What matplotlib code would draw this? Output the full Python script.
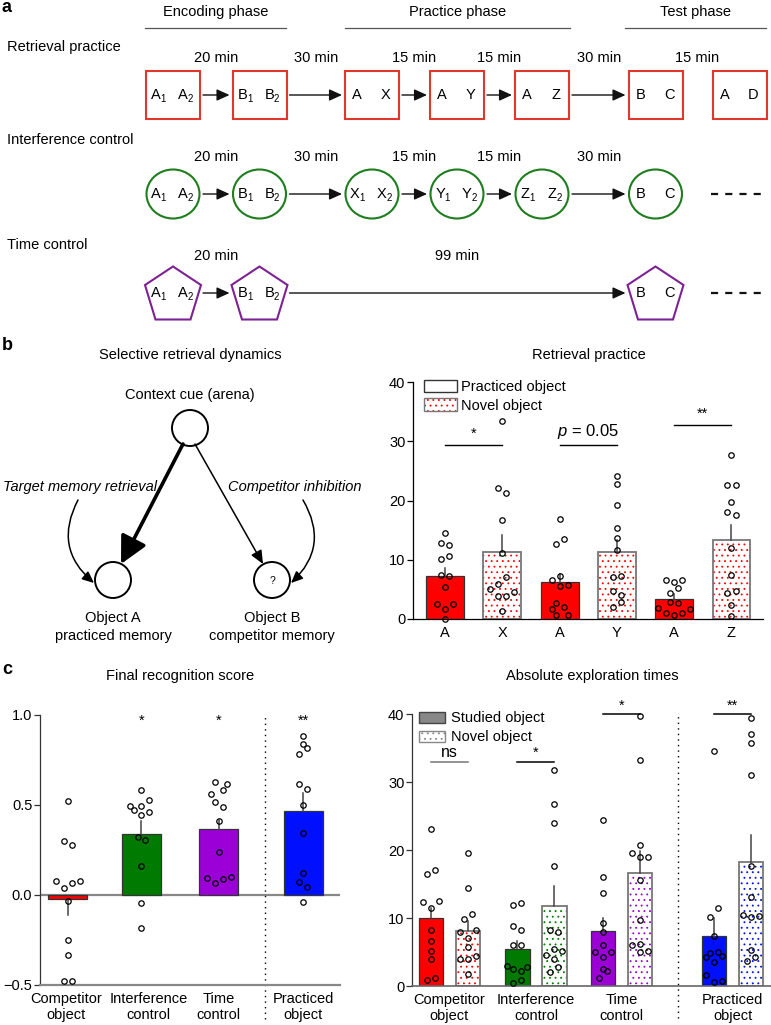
import numpy as np
import matplotlib
matplotlib.use('Agg')
import matplotlib.pyplot as plt
from matplotlib.patches import Rectangle, Ellipse, Polygon, Circle, Patch
from matplotlib.legend_handler import HandlerTuple

plt.rcParams['font.family'] = ['Liberation Sans', 'DejaVu Sans']
plt.rcParams['font.size'] = 10.5
plt.rcParams['mathtext.fontset'] = 'custom'
plt.rcParams['mathtext.rm'] = 'Liberation Sans'
plt.rcParams['mathtext.it'] = 'Liberation Sans:italic'
plt.rcParams['hatch.linewidth'] = 0.6

W, H = 771, 1025

# ---------------- data ----------------
# panel a: protocol
phases = ['Encoding phase', 'Practice phase', 'Test phase']
rp_items = [('A1', 'A2'), ('B1', 'B2'), ('A', 'X'), ('A', 'Y'), ('A', 'Z'), ('B', 'C'), ('A', 'D')]
rp_gaps = ['20 min', '30 min', '15 min', '15 min', '30 min', '15 min']
ic_items = [('A1', 'A2'), ('B1', 'B2'), ('X1', 'X2'), ('Y1', 'Y2'), ('Z1', 'Z2'), ('B', 'C')]
ic_gaps = ['20 min', '30 min', '15 min', '15 min', '30 min']
tc_items = [('A1', 'A2'), ('B1', 'B2'), ('B', 'C')]
tc_gaps = ['20 min', '99 min']

# panel b right: retrieval practice
rp_labels = ['A', 'X', 'A', 'Y', 'A', 'Z']
rp_means = [7.3, 11.3, 6.2, 11.3, 3.3, 13.4]
rp_sem = [1.3, 2.9, 1.45, 2.1, 1.0, 2.5]
rp_points = [
    [14.5, 12.9, 12.5, 10.7, 10.2, 7.5, 7.3, 5.4, 2.5, 1.7, 2.6, 0.05],
    [33.4, 22.1, 21.2, 16.7, 11.2, 7.1, 5.9, 5.1, 3.9, 3.9, 4.5, 1.3],
    [16.9, 12.7, 13.5, 7.3, 6.5, 5.6, 5.8, 2.7, 1.7, 2.1, 0.7, 0.7],
    [24.1, 22.8, 19.3, 15.4, 13.6, 11.7, 7.1, 7.2, 4.7, 4.1, 2.9, 2.1],
    [6.6, 6.2, 6.6, 5.2, 4.4, 2.8, 2.7, 1.9, 1.7, 1.0, 0.7, 1.0],
    [27.6, 22.6, 22.6, 19.7, 18.0, 17.5, 12.0, 7.5, 4.4, 4.8, 2.3, 0.45],
]
rp_offsets = [
    [0, -1, 1, 1, -1, -1, 1, 0, -2, 0, 2, 0],
    [0, -1, 1, 0, 0, 1, -1, -3, -1, 1, 3, 0],
    [0, -1, 1, 0, -2, 0, 2, -1, -2, 1, -1, 2],
    [0, 0, 0, 0, 0, 0, -1, 1, -1, 1, 1, -1],
    [-2, 0, 2, 1, -1, -1, 1, -4, 4, -2, 0, 2],
    [0, -1, 1, 0, -1, 1, 0, 0, -1, 1, 0, 0],
]

# panel c left: final recognition score
score_labels = ['Competitor\nobject', 'Interference\ncontrol', 'Time\ncontrol', 'Practiced\nobject']
score_means = [-0.02, 0.34, 0.365, 0.465]
score_sem = [0.09, 0.07, 0.05, 0.10]
score_stars = ['', '*', '*', '**']
score_points = [
    [0.52, 0.30, 0.276, 0.078, 0.039, 0.069, 0.078, -0.033, -0.248, -0.335, -0.48, -0.48],
    [0.583, 0.494, 0.494, 0.528, 0.472, 0.463, 0.443, 0.324, 0.306, 0.159, -0.044, -0.183],
    [0.628, 0.615, 0.583, 0.561, 0.519, 0.491, 0.409, 0.241, 0.096, 0.069, 0.087, 0.102],
    [0.883, 0.837, 0.815, 0.783, 0.619, 0.589, 0.502, 0.346, 0.120, 0.074, 0.043, -0.037],
]
score_offsets = [
    [0, -1, 1, -3, -1, 1, 3, 0, 0, 0, -1, 1],
    [0, -3, 0, 2, -2, 2, 0, -1, 1, 0, 0, 0],
    [-1, 2, 1, -2, -1, 1, 0, 0, -3, -1, 1, 3],
    [0, 0, 1, -1, -1, 1, 0, 0, 0, -1, 1, 0],
]

# panel c right: absolute exploration times
studied_means = [10.0, 5.4, 8.1, 7.35]
studied_sem = [1.5, 1.2, 1.95, 2.7]
novel_means = [8.1, 11.7, 16.6, 18.2]
novel_sem = [1.5, 3.05, 3.25, 3.95]
studied_points = [
    [23.1, 16.5, 17.1, 12.3, 12.5, 11.5, 8.3, 6.6, 5.2, 3.9, 0.9, 1.2],
    [11.9, 12.2, 8.8, 8.2, 6.0, 6.0, 2.9, 2.5, 2.2, 2.8, 0.5, 0.9],
    [24.4, 16.0, 13.7, 9.3, 7.9, 6.0, 5.0, 5.0, 4.2, 2.5, 2.2, 1.2],
    [34.5, 11.4, 10.2, 7.4, 4.3, 4.8, 5.0, 4.4, 3.5, 1.6, 0.6, 0.7],
]
studied_offsets = [
    [0, -1, 1, -2, 2, 0, 0, 0, 0, 0, -1, 1],
    [-1, 1, -1, 1, -1, 1, -2.5, -1, 1, 2.5, -1, 1],
    [0, 0, 0, 0, 0, 0, -2, 2, 0, 0, 1, -1],
    [0, 1, -1, 0, -2, -1, 1, 2, 0, -2, 0, 2],
]
novel_points = [
    [19.6, 14.4, 10.6, 9.9, 7.9, 8.2, 7.1, 5.7, 3.9, 3.9, 4.4, 1.8],
    [31.7, 26.7, 24.0, 17.6, 8.3, 7.9, 5.5, 4.6, 5.1, 4.0, 2.8, 2.1],
    [39.7, 33.2, 20.7, 19.6, 19.0, 19.0, 15.6, 9.7, 6.2, 6.0, 5.0, 5.2],
    [39.4, 37.1, 35.7, 31.0, 17.6, 13.1, 10.5, 10.2, 10.3, 5.3, 3.7, 4.3],
]
novel_offsets = [
    [0, 0, 1, -1, -2, 2, 0, 0, -2, 0, 2, 0],
    [0, 0, 0, 0, -1, 1, 0, -2, 2, 0, 1, -1],
    [0, 0, 0, -2, 0, 2, 0, 0, 0, -2, 0, 2],
    [0, 0, 0, 0, 0, 0, -2, 0, 2, 0, -1, 1],
]
expl_sig = ['ns', '*', '*', '**']
expl_sig_y = [32.9, 33.0, 40.0, 40.0]

group_colors = ['#ff0000', '#007a00', '#9b00d6', '#0010ff']
shape_colors = ['#e0392b', '#1e7d1e', '#7d2293']
DOTS = '...'


def px_rect(x0, y0, x1, y1):
    return [x0 / W, 1 - y1 / H, (x1 - x0) / W, (y1 - y0) / H]


fig = plt.figure(figsize=(W / 100, H / 100), dpi=100)
ov = fig.add_axes([0, 0, 1, 1])
ov.set_xlim(0, W)
ov.set_ylim(H, 0)
ov.axis('off')

# ---------------- panel a ----------------
ov.text(1, 7, 'a', fontsize=13, fontweight='bold', ha='left', va='center')
phase_x = [(145, 286), (345, 570), (625, 766)]
for name, (x0, x1) in zip(phases, phase_x):
    ov.text((x0 + x1) / 2, 12, name, ha='center', va='center')
    ov.plot([x0, x1], [28, 28], color='#555', lw=0.9)

col_x = [173, 259.5, 372, 457, 542, 655.5, 739.5]


def item_text(x, y, s):
    ov.text(x, y, s[0], ha='center', va='center', fontsize=10.5)
    if len(s) > 1:
        ov.text(x + 7, y + 4, s[1:], ha='center', va='center', fontsize=7)


def draw_shape(kind, cx, cy, color, items):
    if kind == 'box':
        p = Rectangle((cx - 27, cy - 24), 54, 48, fill=False, ec=color, lw=1.5)
    elif kind == 'circle':
        p = Ellipse((cx, cy), 53, 49, fill=False, ec=color, lw=1.5)
    else:
        p = Polygon([(cx, cy - 26.5), (cx + 28, cy - 8), (cx + 17.5, cy + 26.5),
                     (cx - 17.5, cy + 26.5), (cx - 28, cy - 8)], closed=True,
                    fill=False, ec=color, lw=1.5)
    ov.add_patch(p)
    if len(items[0]) > 1:
        item_text(cx - 17, cy, items[0])
        item_text(cx + 10, cy, items[1])
    else:
        item_text(cx - 15, cy, items[0])
        item_text(cx + 14, cy, items[1])


def h_arrow(x0, x1, y):
    ov.annotate('', xy=(x1, y), xytext=(x0, y),
                arrowprops=dict(arrowstyle='-|>,head_length=0.55,head_width=0.25',
                                color='#111', lw=1.0, mutation_scale=14,
                                shrinkA=0, shrinkB=0))


rows = [
    ('Retrieval practice', 47, 95, 'box', rp_items, rp_gaps, list(range(7)), shape_colors[0]),
    ('Interference control', 140, 194, 'circle', ic_items, ic_gaps, list(range(6)), shape_colors[1]),
    ('Time control', 245, 293, 'pent', tc_items, tc_gaps, [0, 1, 5], shape_colors[2]),
]
for label, ly, cy, kind, items, gaps, cols, color in rows:
    ov.text(7, ly, label, ha='left', va='center')
    for it, c in zip(items, cols):
        draw_shape(kind, col_x[c], cy, color, it)
    n_arrows = len(cols) - 1 if kind != 'box' else 5
    for k in range(n_arrows):
        xa = col_x[cols[k]] + 30
        xb = col_x[cols[k + 1]] - 30
        h_arrow(xa, xb, cy)
    for k, g in enumerate(gaps):
        gx = (col_x[cols[k]] + col_x[cols[k + 1]]) / 2
        ov.text(gx, cy - 37, g, ha='center', va='center')
    if kind != 'box':
        ov.plot([711, 765], [cy, cy], color='#111', lw=1.6, ls=(0, (3.2, 3.2)))

# ---------------- panel b left ----------------
ov.text(2, 346, 'b', fontsize=13, fontweight='bold', ha='left', va='center')
ov.text(190, 355, 'Selective retrieval dynamics', ha='center', va='center')
ov.text(190, 395, 'Context cue (arena)', ha='center', va='center')
for (cx, cy) in [(190, 428), (113, 580), (272, 580)]:
    ov.add_patch(Circle((cx, cy), 18, fill=False, ec='k', lw=1.4))
ov.text(272, 581, '?', ha='center', va='center', fontsize=7.5)
ov.annotate('', xy=(121, 564), xytext=(183, 444),
            arrowprops=dict(arrowstyle='-|>,head_length=0.55,head_width=0.28',
                            color='k', lw=2.6, mutation_scale=30, shrinkA=0, shrinkB=0))
ov.annotate('', xy=(263, 564), xytext=(195, 444),
            arrowprops=dict(arrowstyle='-|>,head_length=0.5,head_width=0.22',
                            color='k', lw=1.1, mutation_scale=16, shrinkA=0, shrinkB=0))
ov.text(80, 487, 'Target memory retrieval', ha='center', va='center', style='italic')
ov.text(295, 487, 'Competitor inhibition', ha='center', va='center', style='italic')
ov.annotate('', xy=(94, 583), xytext=(78, 500),
            arrowprops=dict(arrowstyle='-|>,head_length=0.5,head_width=0.22',
                            color='k', lw=1.1, mutation_scale=14, shrinkA=0, shrinkB=0,
                            connectionstyle='arc3,rad=0.4'))
ov.annotate('', xy=(291, 583), xytext=(303, 500),
            arrowprops=dict(arrowstyle='-|>,head_length=0.5,head_width=0.22',
                            color='k', lw=1.1, mutation_scale=14, shrinkA=0, shrinkB=0,
                            connectionstyle='arc3,rad=-0.4'))
ov.text(113, 618, 'Object A', ha='center', va='center')
ov.text(113, 636, 'practiced memory', ha='center', va='center')
ov.text(272, 618, 'Object B', ha='center', va='center')
ov.text(272, 636, 'competitor memory', ha='center', va='center')

# titles of chart panels
ov.text(589, 355, 'Retrieval practice', ha='center', va='center')
ov.text(2, 670, 'c', fontsize=13, fontweight='bold', ha='left', va='center')
ov.text(180, 676, 'Final recognition score', ha='center', va='center')
ov.text(592, 676, 'Absolute exploration times', ha='center', va='center')


def style_axes(ax, left_color='k', bottom_color='k', bottom_lw=0.9):
    for s in ['top', 'right']:
        ax.spines[s].set_visible(False)
    ax.spines['left'].set_color(left_color)
    ax.spines['left'].set_linewidth(0.9)
    ax.spines['bottom'].set_color(bottom_color)
    ax.spines['bottom'].set_linewidth(bottom_lw)
    ax.tick_params(axis='y', direction='out', length=4, width=0.9, pad=1.5,
                   labelsize=10.5, color=left_color)
    ax.tick_params(axis='x', length=0, pad=5, labelsize=10.5)
    ax.patch.set_alpha(0)


def dotted_bar(ax, x, h, w, dot_color, edge_color):
    ax.bar(x, h, w, color='white', edgecolor=dot_color, hatch=DOTS, linewidth=0, zorder=1)
    ax.bar(x, h, w, fill=False, edgecolor=edge_color, linewidth=1.3, zorder=1.5)


def scatter_pts(ax, x, pts, offs, step):
    xs = [x + o * step for o in offs]
    ax.plot(xs, pts, 'o', ms=3.9, mfc='none', mec='k', mew=0.9, zorder=4, clip_on=False)


def err_line(ax, x, m, s):
    top = m + s if m >= 0 else m - s
    ax.plot([x, x], [m, top], color='#444', lw=1.1, zorder=3)


# ---------------- panel b right ----------------
axb = fig.add_axes(px_rect(413, 382, 763, 619))
style_axes(axb)
xb = np.arange(len(rp_labels))
for i in range(len(rp_labels)):
    if i % 2 == 0:
        axb.bar(xb[i], rp_means[i], 0.66, color=group_colors[0], edgecolor='#333', linewidth=0.9, zorder=1)
    else:
        dotted_bar(axb, xb[i], rp_means[i], 0.66, group_colors[0], '#777')
    err_line(axb, xb[i], rp_means[i], rp_sem[i])
    scatter_pts(axb, xb[i], rp_points[i], rp_offsets[i], 0.07)
axb.set_xlim(-0.56, 5.55)
axb.set_ylim(0, 40)
axb.set_yticks([0, 10, 20, 30, 40])
axb.set_xticks(xb)
axb.set_xticklabels(rp_labels)
for (a, b), y, txt, ty, fs in [((0, 1), 29.3, '*', 30.0, 10.5),
                               ((2, 3), 29.3, r'$\it{p}$ = 0.05', 31.6, 12),
                               ((4, 5), 32.8, '**', 33.5, 10.5)]:
    axb.plot([a, b], [y, y], color='k', lw=1.0)
    axb.text((a + b) / 2, ty, txt, ha='center', va='bottom' if '*' in txt else 'center', fontsize=fs)
leg_b = [Patch(facecolor='white', edgecolor='#333', linewidth=1.0),
         (Patch(facecolor='white', edgecolor=group_colors[0], hatch=DOTS, linewidth=0),
          Patch(fill=False, edgecolor='#777', linewidth=1.0))]
axb.legend(leg_b, ['Practiced object', 'Novel object'], handler_map={tuple: HandlerTuple(ndivide=1)},
           loc='upper left', bbox_to_anchor=(0.03, 1.01), frameon=False, handlelength=2.3,
           handleheight=0.95, handletextpad=0.3, labelspacing=0.3, borderpad=0, borderaxespad=0)

# ---------------- panel c left ----------------
axc = fig.add_axes(px_rect(40, 715, 340, 985))
style_axes(axc, left_color='#333', bottom_color='#888', bottom_lw=1.6)
xc = [0, 1, 2.05, 3.2]
label_xc = [-0.03, 1.1, 2.05, 3.2]
axc.axhline(0, color='#888', lw=1.6, zorder=0.5)
for i in range(4):
    axc.bar(xc[i], score_means[i], 0.53, color=group_colors[i], edgecolor='#333', linewidth=0.9, zorder=1)
    err_line(axc, xc[i], score_means[i], score_sem[i])
    scatter_pts(axc, xc[i], score_points[i], score_offsets[i], 0.054)
    if score_stars[i]:
        axc.text(xc[i], 0.93, score_stars[i], ha='center', va='bottom')
axc.plot([2.68, 2.68], [-0.69, 1.0], color='k', lw=1.0, ls=(0, (1, 3)), clip_on=False)
axc.set_xlim(-0.38, 3.7)
axc.set_ylim(-0.5, 1.0)
axc.set_yticks([-0.5, 0, 0.5, 1.0])
axc.set_yticklabels(['\u22120.5', '0.0', '0.5', '1.0'])
axc.set_xticks(label_xc)
axc.set_xticklabels(score_labels, linespacing=1.15)

# ---------------- panel c right ----------------
axd = fig.add_axes(px_rect(412, 714, 771, 986))
style_axes(axd, left_color='#333', bottom_color='#666', bottom_lw=1.2)
gx = [0, 2.34, 4.65, 7.65]
for i in range(4):
    xs, xn = gx[i] - 0.5, gx[i] + 0.5
    axd.bar(xs, studied_means[i], 0.65, color=group_colors[i], edgecolor='#333', linewidth=0.9, zorder=1)
    dotted_bar(axd, xn, novel_means[i], 0.65, group_colors[i], '#777')
    err_line(axd, xs, studied_means[i], studied_sem[i])
    err_line(axd, xn, novel_means[i], novel_sem[i])
    scatter_pts(axd, xs, studied_points[i], studied_offsets[i], 0.108)
    scatter_pts(axd, xn, novel_points[i], novel_offsets[i], 0.108)
    line_c = '#777' if expl_sig[i] == 'ns' else 'k'
    axd.plot([xs, xn], [expl_sig_y[i]] * 2, color=line_c, lw=1.1, clip_on=False)
    if expl_sig[i] == 'ns':
        axd.text(gx[i], expl_sig_y[i] + 0.4, 'ns', ha='center', va='bottom', fontsize=11.5)
    else:
        axd.text(gx[i], expl_sig_y[i] + 0.2, expl_sig[i], ha='center', va='bottom')
axd.plot([6.18, 6.18], [-4.7, 40], color='k', lw=1.0, ls=(0, (1, 3)), clip_on=False)
axd.set_xlim(-1.01, 8.69)
axd.set_ylim(0, 40)
axd.set_yticks([0, 10, 20, 30, 40])
axd.set_xticks(gx)
axd.set_xticklabels(score_labels, linespacing=1.15)
leg_d = [Patch(facecolor='#888', edgecolor='#444', linewidth=1.0),
         (Patch(facecolor='white', edgecolor='#888', hatch=DOTS, linewidth=0),
          Patch(fill=False, edgecolor='#888', linewidth=1.0))]
axd.legend(leg_d, ['Studied object', 'Novel object'], handler_map={tuple: HandlerTuple(ndivide=1)},
           loc='upper left', bbox_to_anchor=(0.02, 1.01), frameon=False, handlelength=1.8,
           handleheight=0.75, handletextpad=0.4, labelspacing=0.35, borderpad=0, borderaxespad=0)

fig.savefig('out.png', dpi=100)
